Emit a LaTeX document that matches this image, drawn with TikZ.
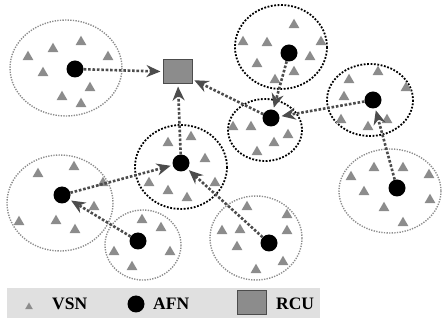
\documentclass[tikz,border=0pt]{standalone}
\usepackage{fontspec}
\setmainfont{Liberation Serif}
\usepackage{xcolor}
\usetikzlibrary{arrows.meta,shapes.geometric}
\definecolor{vsngray}{gray}{0.55}
\definecolor{linkgray}{gray}{0.3}
\definecolor{bandgray}{gray}{0.88}

\begin{document}
\begin{tikzpicture}[x=1pt,y=-1pt,
    vsn/.style={regular polygon, regular polygon sides=3, fill=vsngray, inner sep=0pt, minimum size=12.5pt},
    afn/.style={circle, fill=black, inner sep=0pt, minimum size=17pt},
    rcubox/.style={rectangle, fill=vsngray, draw=linkgray, line width=1pt, inner sep=0pt, minimum width=29pt, minimum height=24pt},
    lightcluster/.style={draw=vsngray, line width=1.4pt, dash pattern=on 1.3pt off 1.3pt},
    darkcluster/.style={draw=black, line width=1.8pt, dash pattern=on 1.8pt off 1.6pt},
    link/.style={draw=linkgray, line width=2.6pt, dash pattern=on 2.6pt off 1.8pt, -{Stealth[length=14pt,width=12pt]}, shorten >=2pt},
    lbl/.style={font=\bfseries\fontsize{17.5}{17.5}\selectfont, inner sep=0pt}]
    \useasboundingbox (0,0) rectangle (442,320);

    % CLUSTERS: coverage areas
    \draw[lightcluster] (66,68) ellipse [x radius=56, y radius=48];
    \draw[darkcluster] (281,47) ellipse [x radius=46, y radius=42];
    \draw[darkcluster] (265,130) ellipse [x radius=37, y radius=31];
    \draw[darkcluster] (370,100) ellipse [x radius=43, y radius=36];
    \draw[lightcluster] (390,191) ellipse [x radius=51, y radius=42];
    \draw[darkcluster] (181,167) ellipse [x radius=46, y radius=42];
    \draw[lightcluster] (60,203) ellipse [x radius=53, y radius=48];
    \draw[lightcluster] (143,245) ellipse [x radius=38, y radius=35];
    \draw[lightcluster] (256,238) ellipse [x radius=46, y radius=42];

    % VSN sensors
    \foreach \p [count=\i] in {(28,57),(53,49),(81,42),(108,57),(43,73),(90,88),(62,97),(81,104),
        (243,42),(267,43),(294,25),(321,42),(310,57),(257,64),(294,72),(275,80),
        (233,127),(251,127),(288,135),(274,143),(257,152),
        (378,72),(349,80),(406,88),(344,97),(341,120),(368,127),(387,120),
        (351,177),(374,168),(403,168),(429,175),(364,192),(384,208),(430,200),(403,223),
        (168,143),(191,137),(205,159),(149,183),(168,191),(187,198),(215,183),
        (38,174),(74,167),(103,183),(94,207),(56,221),(75,230),(19,222),
        (142,220),(161,228),(114,252),(170,252),(132,267),
        (247,207),(287,215),(222,231),(240,230),(287,231),(237,247),(283,262),(256,270)}
        \node[vsn] (v\i) at \p {};

    % AFN heads and the RCU
    \node[rcubox] (rcu) at (177.5,72) {};
    \node[afn] (afn1) at (75,69) {};
    \node[afn] (afn2) at (289,53) {};
    \node[afn] (afn3) at (271,118) {};
    \node[afn] (afn4) at (373,100) {};
    \node[afn] (afn5) at (397,188) {};
    \node[afn] (afn6) at (181,163) {};
    \node[afn] (afn7) at (62,195) {};
    \node[afn] (afn8) at (138,241) {};
    \node[afn] (afn9) at (269,243) {};

    % LINKS: multi-hop routes towards the RCU
    \draw[link] (afn1) -- (rcu);
    \draw[link] (afn6) -- (rcu);
    \draw[link] (afn3) -- (rcu);
    \draw[link] (afn2) -- (afn3);
    \draw[link] (afn4) -- (afn3);
    \draw[link] (afn5) -- (afn4);
    \draw[link] (afn7) -- (afn6);
    \draw[link] (afn9) -- (afn6);
    \draw[link] (afn8) -- (afn7);

    % LEGEND
    \fill[bandgray] (7,288) rectangle (320,318);
    \node[vsn, minimum size=9pt] (keyvsn) at (29,307) {};
    \node[lbl, anchor=west] (txtvsn) at (52,304) {VSN};
    \node[afn] (keyafn) at (136,304) {};
    \node[lbl, anchor=west] (txtafn) at (153,304) {AFN};
    \node[rcubox] (keyrcu) at (251.5,303) {};
    \node[lbl, anchor=west] (txtrcu) at (276,304) {RCU};
\end{tikzpicture}
\end{document}
